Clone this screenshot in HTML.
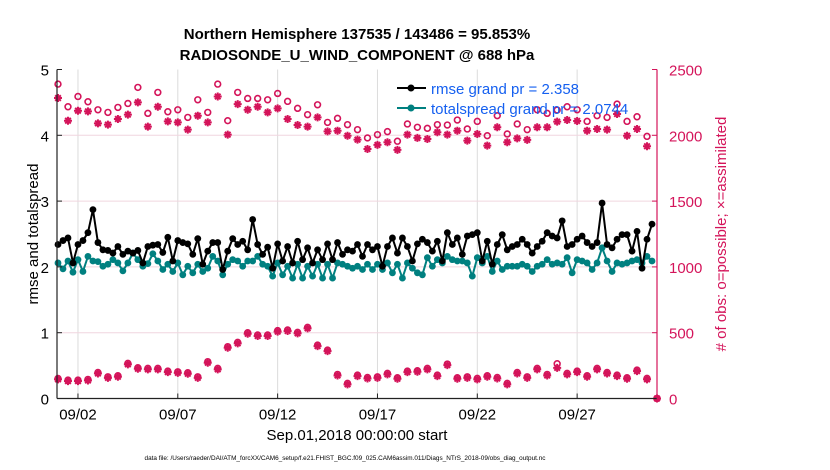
<!DOCTYPE html>
<html><head><meta charset="utf-8"><style>
body{margin:0;background:#fff;}
svg{display:block;font-family:"Liberation Sans",Arial,sans-serif;}
</style></head><body>
<svg id="chart" width="830" height="470" viewBox="0 0 830 470">
<rect width="830" height="470" fill="#fff"/>
<g id="grid"></g>
<g id="series"></g>
<g id="axes"></g>
<text x="357" y="39" text-anchor="middle" font-size="15" font-weight="bold">Northern Hemisphere 137535 / 143486 = 95.853%</text>
<text x="357" y="60" text-anchor="middle" font-size="15" font-weight="bold">RADIOSONDE_U_WIND_COMPONENT @ 688 hPa</text>
<text transform="translate(38,234) rotate(-90)" text-anchor="middle" font-size="15">rmse and totalspread</text>
<text transform="translate(726,234) rotate(-90)" text-anchor="middle" font-size="15" fill="#d4145a"># of obs: o=possible; ×=assimilated</text>
<text x="357" y="440" text-anchor="middle" font-size="15">Sep.01,2018 00:00:00 start</text>
<text x="345" y="460" text-anchor="middle" font-size="6.4">data file: /Users/raeder/DAI/ATM_forcXX/CAM6_setup/f.e21.FHIST_BGC.f09_025.CAM6assim.011/Diags_NTrS_2018-09/obs_diag_output.nc</text>
<g>
<g>
<line x1="397" y1="88" x2="426" y2="88" stroke="#000" stroke-width="2"/><circle cx="411" cy="88" r="3.5" fill="#000"/>
<text x="431" y="94" font-size="15" fill="#1560f0">rmse grand pr = 2.358</text></g>
<g>
<line x1="397" y1="108" x2="426" y2="108" stroke="#008080" stroke-width="2"/><circle cx="411" cy="108" r="3.5" fill="#008080"/>
<text x="431" y="114" font-size="15" fill="#1560f0">totalspread grand pr = 2.0744</text></g>
</g>
</svg>
<script>
const rmse=[2.34,2.40,2.44,2.06,2.34,2.40,2.52,2.87,2.37,2.26,2.25,2.21,2.31,2.19,2.24,2.21,2.25,2.06,2.31,2.33,2.34,2.22,2.45,2.09,2.40,2.37,2.35,2.19,2.43,2.04,2.24,2.37,2.37,1.96,2.24,2.43,2.34,2.39,2.26,2.72,2.34,
2.19,2.30,1.98,2.35,2.09,2.31,2.06,2.39,2.11,2.29,2.06,2.26,2.11,2.35,2.11,2.37,2.19,2.26,2.24,2.34,2.16,2.34,2.26,2.31,2.01,2.31,2.44,2.21,2.44,2.31,2.09,2.35,2.42,2.37,2.24,2.39,2.09,2.52,2.34,2.44,
2.19,2.47,2.49,2.52,2.09,2.39,2.04,2.34,2.49,2.26,2.31,2.34,2.42,2.34,2.21,2.31,2.39,2.52,2.47,2.44,2.70,2.31,2.34,2.42,2.47,2.37,2.31,2.37,2.97,2.34,2.29,2.42,2.49,2.49,2.24,2.54,1.98,2.42,2.65];
const spread=[2.06,1.97,2.09,1.92,2.11,1.93,2.16,2.09,2.08,2.01,2.04,2.11,2.06,1.94,2.06,2.21,2.11,2.01,2.05,2.20,2.09,1.96,2.04,1.93,2.06,1.88,2.01,1.91,2.04,1.93,1.98,2.16,2.09,1.88,2.04,2.11,2.09,2.01,2.09,2.09,2.16,
2.04,2.01,1.86,2.06,1.88,2.01,1.83,2.04,1.83,2.01,1.86,2.04,1.83,2.04,1.83,2.06,2.04,2.01,1.98,2.01,1.96,2.04,1.96,2.04,1.96,2.06,1.91,2.04,1.83,2.06,1.98,1.91,1.88,2.14,2.01,2.11,2.06,2.16,2.11,2.09,
2.09,2.06,1.86,2.14,2.06,2.16,1.93,2.09,1.96,2.01,2.01,2.01,2.04,2.01,1.93,2.01,2.04,2.11,2.04,2.06,2.04,2.14,1.91,2.11,2.09,2.06,1.96,2.06,2.29,2.09,1.93,2.06,2.04,2.06,2.09,2.11,2.06,2.16,2.09];
const possUpper=[2389,2217,2295,2255,2194,2174,2212,2242,2364,2167,2326,2179,2194,2136,2270,2174,2389,2111,2326,2280,2280,
2270,2318,2258,2205,2157,2232,2098,2129,2081,2043,1980,2005,2028,1955,2086,2061,2053,2081,2078,2116,
2048,2106,1997,2149,2010,2086,2043,2194,2167,2192,2217,2194,2106,2149,2136,2237,2106,2141,1992,null];
const assimUpper=[2283,2111,2187,2182,2091,2081,2124,2157,2250,2066,2217,2106,2098,2043,2149,2098,2295,2005,2237,2194,2217,
2174,2205,2124,2078,2066,2136,2030,2035,1997,1967,1896,1927,1947,1889,2005,1980,1972,2023,2005,2035,
1960,2010,1922,2061,1947,1977,1965,2061,2061,2104,2116,2109,2035,2048,2043,2162,1997,2048,1917,null];
const assimLower=[145,132,132,137,190,157,165,259,226,221,221,200,195,188,157,272,221,386,419,492,
475,475,508,513,495,533,398,360,175,107,170,152,157,183,150,200,203,221,170,254,
150,157,145,165,152,107,190,157,221,175,233,183,200,165,221,190,170,150,208,145,0];
const possLower=[152,140,140,145,198,165,173,267,234,229,229,208,203,196,165,280,229,394,427,500,
483,483,516,521,503,541,406,368,183,115,178,160,165,191,158,208,211,229,178,262,
158,165,153,173,160,115,198,165,229,183,264,191,208,173,229,198,178,158,216,153,0];
const xTickLabels=["09/02","09/07","09/12","09/17","09/22","09/27"];
const xTickDays=[1,6,11,16,21,26];
const yLeftTicks=[0,1,2,3,4,5];
const yRightTicks=[0,500,1000,1500,2000,2500];

const NS="http://www.w3.org/2000/svg";
const X0=57,X1=657,Y0=398.5,Y1=69.5;
const CRIM="#d4145a",TEAL="#008080";
function xs(t){return X0+(t+0.05)/30.05*(X1-X0);}
function yl(v){return Y0-v/5*(Y0-Y1);}
function yr(v){return Y0-v/2500*(Y0-Y1);}
function mk(tag,attrs,parent){const e=document.createElementNS(NS,tag);for(const k in attrs)e.setAttribute(k,attrs[k]);parent.appendChild(e);return e;}
const grid=document.getElementById('grid'),ser=document.getElementById('series'),ax=document.getElementById('axes');

xTickDays.forEach((d,i)=>{
  const x=xs(d);
  const gl=mk('line',{x1:x,x2:x,y1:Y1,y2:Y0,stroke:'#dcdcdc','stroke-width':1},grid);
  
  
  mk('line',{x1:x,x2:x,y1:Y0,y2:Y0-5,stroke:'#222','stroke-width':1},ax);
  const t=mk('text',{x:x,y:Y0+21,'text-anchor':'middle','font-size':15},ax);
  t.textContent=xTickLabels[i];
  
  
});
yRightTicks.forEach(v=>{
  const y=yr(v);
  if(v>0&&v<2500){const gl=mk('line',{x1:X0,x2:X1,y1:y,y2:y,stroke:'#f0d6df','stroke-width':1},grid);
  
  }
  mk('line',{x1:X1,x2:X1-5,y1:y,y2:y,stroke:CRIM,'stroke-width':1},ax);
  const t=mk('text',{x:X1+12,y:y+6,'font-size':15,fill:CRIM},ax);
  t.textContent=v;
  
  
});
yLeftTicks.forEach(v=>{
  const y=yl(v);
  mk('line',{x1:X0,x2:X0+5,y1:y,y2:y,stroke:'#222','stroke-width':1},ax);
  const t=mk('text',{x:X0-8,y:y+6,'text-anchor':'end','font-size':15},ax);
  t.textContent=v;
  
  
});
mk('line',{x1:X0,x2:X0,y1:Y1,y2:Y0,stroke:'#222','stroke-width':1.2},ax);
mk('line',{x1:X0,x2:X1,y1:Y0,y2:Y0,stroke:'#222','stroke-width':1.2},ax);
mk('line',{x1:X1,x2:X1,y1:Y1,y2:Y0,stroke:CRIM,'stroke-width':1.2},ax);

function lineSeries(vals,color,name){
  const pts=vals.map((v,i)=>xs(i*0.25)+','+yl(v)).join(' ');
  const pl=mk('polyline',{points:pts,fill:'none',stroke:color,'stroke-width':2},ser);
  
  
  vals.forEach((v,i)=>{
    const c=mk('circle',{cx:xs(i*0.25),cy:yl(v),r:3.4,fill:color},ser);
    
    
  });
}
function circ(vals,name){
  vals.forEach((v,i)=>{ if(v===null)return;
    const c=mk('circle',{cx:xs(i*0.5),cy:yr(v),r:2.9,fill:'none',stroke:CRIM,'stroke-width':1.6},ser);
    
    
  });
}
function star(vals,name){
  vals.forEach((v,i)=>{ if(v===null)return;
    const x=xs(i*0.5),y=yr(v),s=4;
    const d=`M${x-s},${y}H${x+s}M${x},${y-s}V${y+s}M${x-s*0.7},${y-s*0.7}L${x+s*0.7},${y+s*0.7}M${x-s*0.7},${y+s*0.7}L${x+s*0.7},${y-s*0.7}`;
    const p=mk('path',{d:d,stroke:CRIM,'stroke-width':2,fill:'none'},ser);
    
    
  });
}
circ(possUpper,'possible-obs-marker');
star(assimUpper,'assimilated-obs-marker');
circ(possLower,'possible-obs-marker');
star(assimLower,'assimilated-obs-marker');
lineSeries(spread,TEAL,'totalspread');
lineSeries(rmse,'#000','rmse');
</script>
</body></html>
